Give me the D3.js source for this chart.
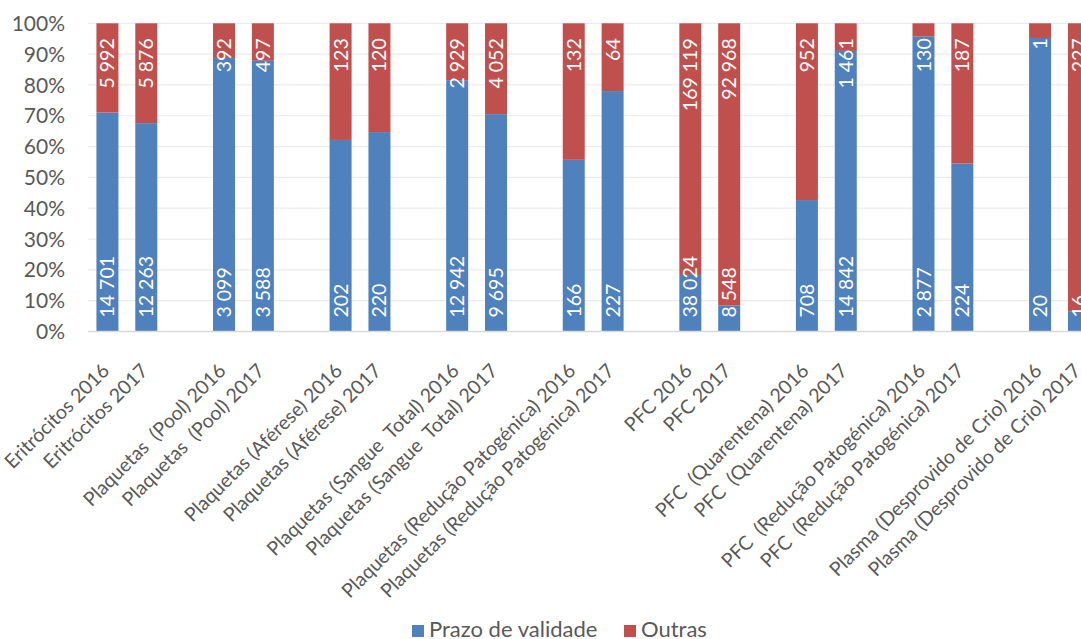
<!DOCTYPE html>
<html>
<head>
<meta charset="utf-8">
<script src="https://cdn.jsdelivr.net/npm/d3@7"></script>
<style>
	body { margin: 0; background: #fff; }
	svg { display: block; font-family: Lato, 'Open Sans', sans-serif; }
	.tick-label { fill: #595959; font-size: 21px; }
	.cat-label { fill: #595959; font-size: 19.5px; white-space: pre; }
	.val-label { fill: #fff; font-size: 19.5px; }
	.legend-label { fill: #595959; font-size: 22px; }
</style>
</head>
<body>
<svg id="plot" width="1081" height="639"></svg>
<script>
const CATEGORIES = [
	'Eritrócitos 2016', 'Eritrócitos 2017',
	'Plaquetas  (Pool) 2016', 'Plaquetas  (Pool) 2017',
	'Plaquetas (Aférese) 2016', 'Plaquetas (Aférese) 2017',
	'Plaquetas (Sangue  Total) 2016', 'Plaquetas (Sangue  Total) 2017',
	'Plaquetas (Redução Patogénica) 2016', 'Plaquetas (Redução Patogénica) 2017',
	'PFC 2016', 'PFC 2017',
	'PFC  (Quarentena) 2016', 'PFC  (Quarentena) 2017',
	'PFC  (Redução Patogénica) 2016', 'PFC  (Redução Patogénica) 2017',
	'Plasma (Desprovido de Crio) 2016', 'Plasma (Desprovido de Crio) 2017'
];
const PRAZO = [14701, 12263, 3099, 3588, 202, 220, 12942, 9695, 166, 227, 38024, 8548, 708, 14842, 2877, 224, 20, 16];
const OUTRAS = [5992, 5876, 392, 497, 123, 120, 2929, 4052, 132, 64, 169119, 92968, 952, 1461, 130, 187, 1, 227];
const SERIES = ['Prazo de validade', 'Outras'];
const COLORS = ['#4f81bd', '#c0504d'];
const Y_TICKS = [0, 0.1, 0.2, 0.3, 0.4, 0.5, 0.6, 0.7, 0.8, 0.9, 1];

const svg = d3.select('#plot');

// one empty slot after every pair of years
const slotOf = i => i + Math.floor(i / 2);
const N_SLOTS = slotOf(CATEGORIES.length - 1) + 1;

const x = d3.scaleBand()
	.domain(d3.range(N_SLOTS))
	.range([88, 88 + N_SLOTS * 38.86])
	.paddingInner(0.434)
	.paddingOuter(0.217);

const y = d3.scaleLinear()
	.domain([0, 1])
	.range([331.5, 23.3]);

const fmt = d3.formatLocale({ decimal: ',', thousands: '\u00a0', grouping: [3], currency: ['', ''] }).format(',d');

const data = CATEGORIES.map((name, i) => {
	const total = PRAZO[i] + OUTRAS[i];
	return { name: name, slot: slotOf(i), vals: [PRAZO[i], OUTRAS[i]], p: PRAZO[i] / total };
});

// gridlines
svg.append('g')
	.selectAll('line')
	.data(Y_TICKS.slice(1))
	.enter().append('line')
	.attr('x1', x.range()[0])
	.attr('x2', x.range()[1])
	.attr('y1', d => y(d))
	.attr('y2', d => y(d))
	.attr('stroke', '#ebebeb')
	.attr('stroke-width', 1.2);

// y labels
svg.append('g')
	.selectAll('text')
	.data(Y_TICKS)
	.enter().append('text')
	.classed('tick-label', true)
	.attr('x', 65)
	.attr('y', d => y(d))
	.attr('dy', '0.36em')
	.attr('text-anchor', 'end')
	.text(d => Math.round(d * 100) + '%');

// bars
const bars = svg.append('g');
bars.selectAll('rect.prazo')
	.data(data)
	.enter().append('rect')
	.attr('x', d => x(d.slot))
	.attr('width', x.bandwidth())
	.attr('y', d => y(d.p))
	.attr('height', d => y(0) - y(d.p))
	.attr('fill', COLORS[0]);
bars.selectAll('rect.outras')
	.data(data)
	.enter().append('rect')
	.attr('x', d => x(d.slot))
	.attr('width', x.bandwidth())
	.attr('y', y(1))
	.attr('height', d => y(d.p) - y(1))
	.attr('fill', COLORS[1]);

// axis line
svg.append('line')
	.attr('x1', x.range()[0])
	.attr('x2', x.range()[1])
	.attr('y1', y(0))
	.attr('y2', y(0))
	.attr('stroke', '#d9d9d9')
	.attr('stroke-width', 1.5);

// value labels, base of blue and top of red
const labels = svg.append('g');
labels.selectAll('text.prazo')
	.data(data)
	.enter().append('text')
	.classed('val-label', true)
	.attr('transform', d => `translate(${x(d.slot) + x.bandwidth() / 2},${y(0) - 14}) rotate(-90)`)
	.attr('dy', '0.36em')
	.attr('text-anchor', 'start')
	.text(d => fmt(d.vals[0]));
labels.selectAll('text.outras')
	.data(data)
	.enter().append('text')
	.classed('val-label', true)
	.attr('transform', d => `translate(${x(d.slot) + x.bandwidth() / 2},${y(1) + 15}) rotate(-90)`)
	.attr('dy', '0.36em')
	.attr('text-anchor', 'end')
	.text(d => fmt(d.vals[1]));

// category labels
svg.append('g')
	.selectAll('text')
	.data(data)
	.enter().append('text')
	.classed('cat-label', true)
	.attr('transform', d => `translate(${x(d.slot) + x.bandwidth() / 2 + 3},372) rotate(-45)`)
	.attr('text-anchor', 'end')
	.text(d => d.name);

// legend
const legendX = [412, 624];
const legend = svg.append('g')
	.selectAll('g')
	.data(SERIES)
	.enter().append('g')
	.attr('transform', (d, i) => `translate(${legendX[i]},625)`);
legend.append('rect')
	.attr('width', 12)
	.attr('height', 12)
	.attr('fill', (d, i) => COLORS[i]);
legend.append('text')
	.classed('legend-label', true)
	.attr('x', 17)
	.attr('y', 12)
	.text(d => d);
</script>
</body>
</html>
